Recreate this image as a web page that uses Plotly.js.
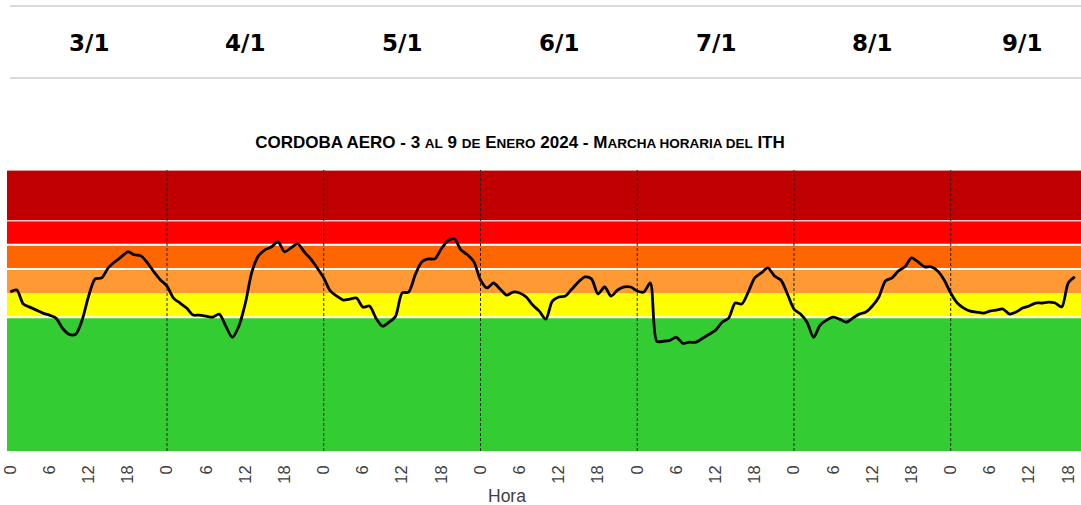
<!DOCTYPE html>
<html>
<head>
<meta charset="utf-8">
<script src="https://cdn.plot.ly/plotly-3.0.1.min.js"></script>
<style>html,body{margin:0;padding:0;background:#fff;}#chart{width:1081px;height:505px;}</style>
</head>
<body>
<div id="chart"></div>
<script>
// Day labels shown in the header
const dayLabels = ['3/1', '4/1', '5/1', '6/1', '7/1', '8/1', '9/1'];

// Hourly ITH values, 3/1 00h to 9/1 19h
const ith = [
  // 3/1
  74.08, 74.25, 73.08, 72.83, 72.58, 72.33, 72.17, 71.92, 71.08, 70.58, 70.58, 71.75,
  73.75, 75.17, 75.25, 76.08, 76.58, 77.00, 77.42, 77.17, 77.08, 76.50, 75.75, 75.08,
  // 4/1
  74.58, 73.58, 73.17, 72.75, 72.17, 72.17, 72.08, 72.00, 72.25, 71.25, 70.33, 71.25,
  73.17, 75.75, 77.08, 77.58, 77.83, 78.25, 77.42, 77.75, 78.08, 77.42, 76.83, 76.08,
  // 5/1
  75.25, 74.17, 73.75, 73.42, 73.50, 73.58, 72.83, 72.92, 71.92, 71.25, 71.58, 72.08,
  74.00, 74.08, 75.50, 76.58, 76.83, 76.83, 77.67, 78.33, 78.50, 77.58, 77.17, 76.58,
  // 6/1
  75.08, 74.42, 74.83, 74.33, 73.83, 74.08, 74.00, 73.67, 73.00, 72.50, 71.83, 73.33,
  73.67, 73.75, 74.33, 74.92, 75.33, 75.17, 73.92, 74.50, 73.75, 74.25, 74.50, 74.50,
  // 7/1
  74.17, 74.08, 74.83, 70.00, 70.00, 70.08, 70.33, 69.83, 69.92, 69.92, 70.25, 70.58,
  70.92, 71.58, 71.92, 73.17, 73.08, 74.08, 75.25, 75.67, 76.08, 75.42, 75.08, 73.92,
  // 8/1
  72.67, 72.25, 71.58, 70.33, 71.33, 71.75, 72.00, 71.83, 71.58, 71.92, 72.25, 72.42,
  72.92, 73.67, 75.00, 75.25, 75.83, 76.17, 76.92, 76.58, 76.17, 76.17, 75.83, 75.08,
  // 9/1
  74.00, 73.17, 72.75, 72.50, 72.42, 72.33, 72.50, 72.58, 72.67, 72.25, 72.42, 72.75,
  72.92, 73.17, 73.17, 73.25, 73.17, 72.85, 74.83, 75.33
];
const hours = ith.map((_, i) => i);

// ITH category thresholds (band edges) and colours
const bandEdges = [60.9, 72, 74, 76, 78, 80, 84.2];
const bandColors = ['#33CC33', '#FFFF00', '#FF9933', '#FF6600', '#FF0000', '#C00000'];

const xMax = 163.95;
const xMin = -0.5;

const shapes = [];
for (let i = 0; i < bandColors.length; i++) {
  shapes.push({type: 'rect', xref: 'paper', yref: 'y', x0: 0, x1: 1,
    y0: bandEdges[i], y1: bandEdges[i + 1], fillcolor: bandColors[i],
    line: {width: 0}, layer: 'below'});
}
// white separators
[[72, '#ffffff', 2], [76, '#ffffff', 2], [78, '#ffffff', 2], [80, '#f4c6c6', 1.5], [84.2, '#f4c6c6', 1.5]].forEach(([y, c, w]) => {
  shapes.push({type: 'line', xref: 'paper', yref: 'y', x0: 0, x1: 1, y0: y, y1: y,
    line: {color: c, width: w}, layer: 'below'});
});
// day separators
for (let d = 24; d < xMax; d += 24) {
  shapes.push({type: 'line', xref: 'x', yref: 'paper', x0: d, x1: d, y0: 0, y1: 1,
    line: {color: '#222222', width: 1, dash: '3px,2px'}, layer: 'below'});
}
// header rules
[1.5836, 1.3274].forEach(y => {
  shapes.push({type: 'line', xref: 'paper', yref: 'paper', x0: 0.003, x1: 1, y0: y, y1: y,
    line: {color: '#d9d9d9', width: 2}});
});

const annotations = dayLabels.map((lab, i) => {
  const s = i * 24;
  const e = Math.min(s + 24, xMax + 2);
  return {text: '<b>' + lab + '</b>', xref: 'x', yref: 'paper', x: (s + e) / 2, y: 1.452,
    showarrow: false, xanchor: 'center', yanchor: 'middle',
    font: {family: 'DejaVu Sans, Arial, sans-serif', size: 23, color: '#000'}};
});
annotations.push({text: 'Hora', xref: 'paper', yref: 'paper', x: 0.4655, y: -0.16,
  showarrow: false, xanchor: 'center', yanchor: 'middle',
  font: {family: 'Liberation Sans, Arial, sans-serif', size: 17.5, color: '#404040'}});

const tickvals = [];
const ticktext = [];
for (let h = 0; h <= xMax; h += 6) { tickvals.push(h); ticktext.push(String(h % 24)); }

const sm = (t) => '<span style="font-size:13.5px">' + t + '</span>';
const titleText = '<b>CORDOBA AERO - 3 ' + sm('AL') + ' 9 ' + sm('DE') + ' E' + sm('NERO') +
  ' 2024 - M' + sm('ARCHA HORARIA DEL') + ' ITH</b>';

const trace = {x: hours, y: ith, type: 'scatter', mode: 'lines',
  line: {color: '#000000', width: 2.8, shape: 'spline', smoothing: 0.8},
  hoverinfo: 'x+y'};

const layout = {
  width: 1081, height: 505,
  margin: {l: 7, r: 0, t: 170, b: 54},
  paper_bgcolor: '#ffffff', plot_bgcolor: '#ffffff',
  showlegend: false,
  title: {text: titleText, xref: 'container', yref: 'container', x: 0.481, y: 0.719,
    xanchor: 'center', yanchor: 'middle',
    font: {family: 'Liberation Sans, Arial, sans-serif', size: 17, color: '#000'}},
  xaxis: {range: [xMin, xMax], tickvals: tickvals, ticktext: ticktext, tickangle: -90,
    showgrid: false, zeroline: false, showline: false, ticks: '', ticklen: 0,
    ticklabelstandoff: 10,
    tickfont: {family: 'Liberation Sans, Arial, sans-serif', size: 16.5, color: '#404040'},
    automargin: false},
  yaxis: {range: [60.9, 84.2], showgrid: false, zeroline: false, showline: false,
    showticklabels: false, ticks: '', automargin: false},
  shapes: shapes,
  annotations: annotations
};

Plotly.newPlot('chart', [trace], layout, {displayModeBar: false, staticPlot: true});
</script>
</body>
</html>
